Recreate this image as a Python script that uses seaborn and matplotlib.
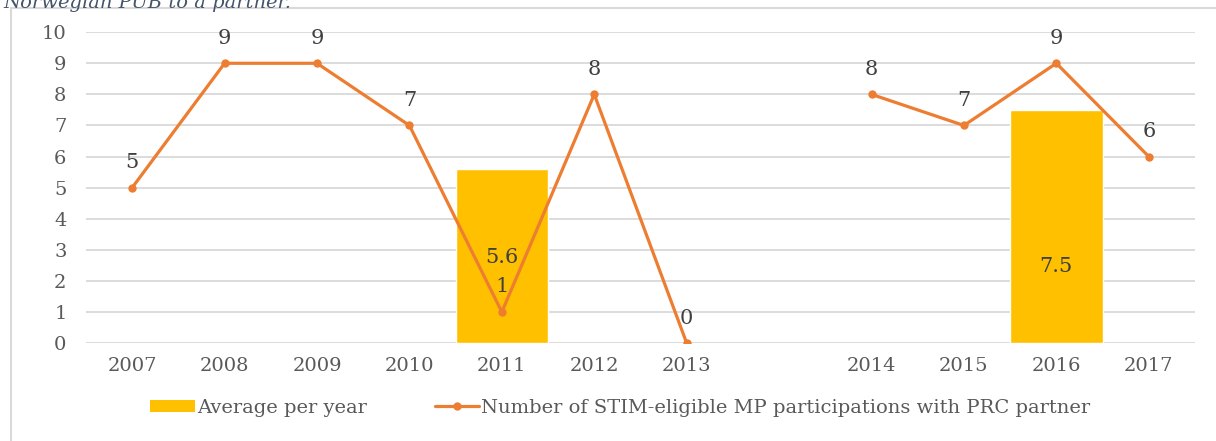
import numpy as np
import pandas as pd
import seaborn as sns
import matplotlib.pyplot as plt
from matplotlib.patches import Rectangle, Patch
from matplotlib.lines import Line2D

# данные с картинки
years = ['2007', '2008', '2009', '2010', '2011', '2012', '2013', '',
         '2014', '2015', '2016', '2017']
participations = [5, 9, 9, 7, 1, 8, 0, np.nan, 8, 7, 9, 6]
segment = [1, 1, 1, 1, 1, 1, 1, 0, 2, 2, 2, 2]
avg_years = ['2011', '2016']
avg_values = [5.6, 7.5]
avg_label_y = [2.75, 2.45]

BAR_COLOR = '#FFC000'
LINE_COLOR = '#ED7D31'
TEXT_COLOR = '#595959'
GRID_COLOR = '#D9D9D9'

sns.set_style('white')
plt.rcParams['font.family'] = ['DejaVu Serif']

fig = plt.figure(figsize=(12.16, 4.41), dpi=100)
ax = fig.add_axes([0.0707, 0.222, 0.9120, 0.705])

df_bar = pd.DataFrame({'year': avg_years, 'value': avg_values})
sns.barplot(data=df_bar, x='year', y='value', order=years, color=BAR_COLOR,
            width=1.0, saturation=1, ax=ax)

df_line = pd.DataFrame({'pos': np.arange(len(years)), 'value': participations,
                        'seg': segment}).dropna()
sns.lineplot(data=df_line, x='pos', y='value', units='seg', estimator=None,
             color=LINE_COLOR, linewidth=2.3, marker='o', markersize=6,
             markeredgewidth=0, ax=ax, legend=False)

# подписи значений линии
for pos, val in zip(df_line['pos'], df_line['value']):
    ax.text(pos, val + 0.5, f'{int(val)}', ha='center', va='bottom',
            fontsize=15, color='#404040')

# подписи столбцов
for yr, val, ly in zip(avg_years, avg_values, avg_label_y):
    ax.text(years.index(yr), ly, f'{val}', ha='center', va='center',
            fontsize=15, color='#404040')

ax.set_ylim(0, 10)
ax.set_xlim(-0.5, len(years) - 0.5)
ax.set_yticks(range(0, 11))
ax.set_xticks(range(len(years)))
ax.set_xticklabels(years)
ax.yaxis.grid(True, color=GRID_COLOR, linewidth=1.3)
ax.set_axisbelow(True)
for s in ax.spines.values():
    s.set_visible(False)
ax.tick_params(axis='both', length=0, labelsize=14, labelcolor=TEXT_COLOR)
ax.tick_params(axis='y', pad=14)
ax.tick_params(axis='x', pad=10)
ax.set_xlabel('')
ax.set_ylabel('')

handles = [
    Patch(facecolor=BAR_COLOR, edgecolor='none'),
    Line2D([], [], color=LINE_COLOR, linewidth=2.3, marker='o',
           markersize=6, markeredgewidth=0),
]
labels = ['Average per year',
          'Number of STIM-eligible MP participations with PRC partner']
fig.legend(handles, labels, loc='center', bbox_to_anchor=(0.51, 0.075),
           ncol=2, frameon=False, fontsize=14, labelcolor=TEXT_COLOR,
           handlelength=2.3, handleheight=0.6, handletextpad=0.1,
           columnspacing=3.5)

# рамка области диаграммы
fig.patches.append(Rectangle((11 / 1216, -0.1), 1.2, 1 - 8 / 441 + 0.1,
                             transform=fig.transFigure, fill=False,
                             edgecolor=GRID_COLOR, linewidth=1.5))

# подпись сверху (в оригинале срезана краем)
fig.text(0.003, 0.993, 'Norwegian PUB to a partner.', ha='left', va='center',
         fontsize=14, style='italic', color='#44546A')

fig.savefig('out.png', dpi=100)
